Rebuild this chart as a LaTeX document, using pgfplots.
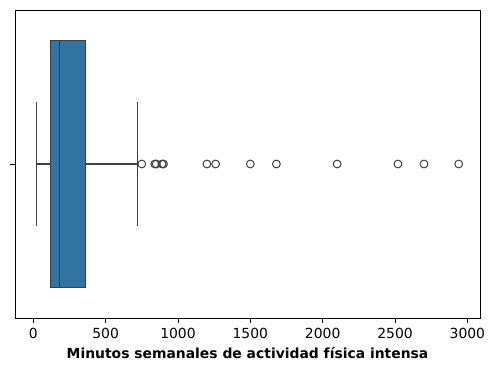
\documentclass[border=0pt]{standalone}
\usepackage{pgfplots}
\pgfplotsset{compat=1.18}
\usepgfplotslibrary{statistics}
\usepackage{fontspec}
\setmainfont{DejaVu Sans}
\definecolor{boxblue}{HTML}{3274A1}
\definecolor{linegray}{HTML}{3F3F3F}
\begin{document}
\begin{tikzpicture}
\begin{axis}[
  name=ax,
  scale only axis, width=465pt, height=308pt,
  xmin=-126, xmax=3087, ymin=-0.5, ymax=0.5,
  xtick={0,500,1000,1500,2000,2500,3000},
  ytick={0}, yticklabels={},
  xtick pos=bottom, ytick pos=left,
  tick align=outside,
  major tick length=4.9pt,
  tick style={black, line width=0.9pt},
  axis line style={line width=0.9pt},
  /pgf/number format/assume math mode=true,
  /pgf/number format/set thousands separator={},
  ticklabel style={font=\fontsize{13.9}{16}\selectfont},
  xticklabel style={yshift=-2pt},
  xlabel={Minutos semanales de actividad física intensa},
  xlabel style={font=\fontsize{13.9}{16}\selectfont\bfseries, yshift=-2pt},
]
\addplot[
  boxplot prepared={
    lower whisker=20, lower quartile=120, median=180,
    upper quartile=360, upper whisker=720,
    draw position=0, box extend=0.8, whisker extend=0.4,
    draw direction=x},
  fill=boxblue, draw=linegray, line width=1.2pt,
  mark=o, mark size=3.9pt, mark options={draw=linegray, fill=none, line width=1pt}
] table[row sep=\\, y index=0] {
v\\ 750\\ 840\\ 850\\ 890\\ 900\\ 1200\\ 1260\\ 1500\\ 1680\\ 2100\\ 2520\\ 2700\\ 2940\\
};
\end{axis}
\path (ax.south west) ++(-15pt,-53pt) coordinate (bl);
\path (ax.north east) ++(14pt,10pt) coordinate (tr);
\useasboundingbox (bl) rectangle (tr);
\end{tikzpicture}
\end{document}
